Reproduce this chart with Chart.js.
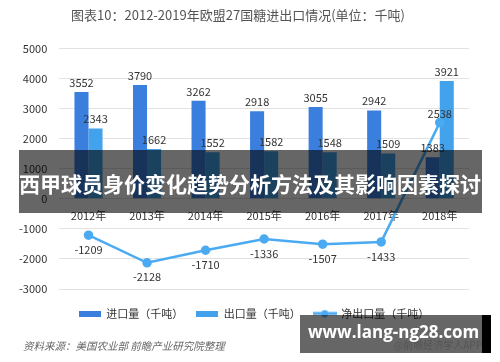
<!DOCTYPE html>
<html>
<head>
<meta charset="utf-8">
<script src="https://cdn.jsdelivr.net/npm/chart.js@4"></script>
<style>
  body { margin: 0; background: #fff; }
  #wrap { position: relative; width: 500px; height: 362px; overflow: hidden; font-family: "Noto Sans CJK SC", sans-serif; }
  #source { position: absolute; left: 23px; top: 338px; font-size: 10.5px; font-style: italic; color: #666; }
  #banner { position: absolute; left: 19px; top: 150px; width: 463px; height: 63px; background: rgba(0,0,0,0.6);
    color: #fff; font-family: "Noto Sans CJK SC", sans-serif; font-weight: bold; font-size: 21px; line-height: 63px;
    padding-top: 2px; box-sizing: border-box; white-space: nowrap; overflow: hidden; }
  #mark { position: absolute; left: 300px; top: 315px; width: 182px; height: 38px; background: rgba(0,0,0,0.6); overflow: hidden; }
  #mark .url { position: absolute; left: 8px; top: 5px; color: #fff; font-weight: bold; font-size: 17px; white-space: nowrap;
    font-family: "Open Sans", sans-serif; }
  #mark .app { position: absolute; right: 0; top: 22px; color: #555; font-size: 10px; white-space: nowrap; }
  #strip { position: absolute; left: 482px; top: 315px; width: 9px; height: 38px; background: #000; }
</style>
</head>
<body>
<div id="wrap">
  <canvas id="chart" width="500" height="362"></canvas>
  <div id="source">资料来源：美国农业部 前瞻产业研究院整理</div>
  <div id="banner">西甲球员身价变化趋势分析方法及其影响因素探讨</div>
  <div id="mark"><span class="app">@前瞻经济学人APP</span><span class="url">www.lang-ng28.com</span></div>
  <div id="strip"></div>
</div>
<script>
const years = ["2012年", "2013年", "2014年", "2015年", "2016年", "2017年", "2018年"];
const imports = [3552, 3790, 3262, 2918, 3055, 2942, 1383];
const exports = [2343, 1662, 1552, 1582, 1548, 1509, 3921];
const netExports = [-1209, -2128, -1710, -1336, -1507, -1433, 2538];
const yTicks = [5000, 4000, 3000, 2000, 1000, 0, -1000, -2000, -3000];

const importColor = "#3b7fde";
const exportColor = "#42a2ec";
const lineColor = "#4aaaf2";

function rectIcon(color) {
  const c = document.createElement("canvas");
  c.width = 22; c.height = 6;
  const g = c.getContext("2d");
  g.fillStyle = color;
  g.fillRect(0, 0, 22, 6);
  return c;
}

function lineIcon(color) {
  const c = document.createElement("canvas");
  c.width = 24; c.height = 8;
  const g = c.getContext("2d");
  g.strokeStyle = color;
  g.lineWidth = 3;
  g.beginPath(); g.moveTo(0, 4); g.lineTo(24, 4); g.stroke();
  g.fillStyle = color;
  g.beginPath(); g.arc(12, 4, 3.5, 0, Math.PI * 2); g.fill();
  return c;
}

// value labels drawn at the positions the library computed for each element
const valueLabels = {
  id: "valueLabels",
  afterDatasetsDraw(chart) {
    const ctx = chart.ctx;
    ctx.save();
    ctx.font = "11px 'Noto Sans CJK SC', sans-serif";
    ctx.fillStyle = "#333";
    ctx.textAlign = "center";
    chart.data.datasets.forEach((ds, i) => {
      const meta = chart.getDatasetMeta(i);
      meta.data.forEach((el, j) => {
        const v = ds.data[j];
        if (ds.type === "line") {
          if (v >= 0) {
            ctx.textBaseline = "bottom";
            ctx.fillText(v, el.x, el.y - 3);
          } else {
            ctx.textBaseline = "top";
            ctx.fillText(v, el.x, el.y + 9);
          }
        } else {
          ctx.textBaseline = "bottom";
          ctx.fillText(v, el.x, el.y - 4);
        }
      });
    });
    ctx.restore();
  }
};

// nudge the legend box a little after layout (the original legend sits off-centre)
const legendNudge = {
  id: "legendNudge",
  afterLayout(chart) {
    const lg = chart.legend;
    if (!lg) return;
    lg.left += 16; lg.right += 16;
    lg.top += 6; lg.bottom += 6;
  }
};

new Chart(document.getElementById("chart"), {
  data: {
    labels: years,
    datasets: [
      {
        type: "line",
        label: "净出口量（千吨）",
        data: netExports,
        borderColor: lineColor,
        backgroundColor: lineColor,
        borderWidth: 2.5,
        pointRadius: 3.5,
        pointStyle: "circle",
        tension: 0,
        order: 0
      },
      {
        type: "bar",
        label: "进口量（千吨）",
        data: imports,
        backgroundColor: importColor,
        barPercentage: 1,
        categoryPercentage: 0.48,
        order: 1
      },
      {
        type: "bar",
        label: "出口量（千吨）",
        data: exports,
        backgroundColor: exportColor,
        barPercentage: 1,
        categoryPercentage: 0.48,
        order: 1
      }
    ]
  },
  options: {
    responsive: false,
    animation: false,
    layout: { padding: { left: 7, right: 31, top: 0, bottom: 39 } },
    scales: {
      x: {
        position: { y: 0 },
        grid: { display: false },
        border: { display: false },
        ticks: { color: "#333", font: { size: 11, family: "'Noto Sans CJK SC', sans-serif" }, padding: 2, maxRotation: 0 }
      },
      y: {
        min: -3000,
        max: 5000,
        afterBuildTicks(axis) { axis.ticks = yTicks.map(v => ({ value: v })); },
        grid: { color: "#e2e2e2", drawTicks: false },
        border: { display: false },
        ticks: {
          color: "#333",
          font: { size: 11, family: "'Noto Sans CJK SC', sans-serif" },
          padding: 12,
          callback: (v) => String(v)
        }
      }
    },
    plugins: {
      title: {
        display: true,
        text: "图表10：2012-2019年欧盟27国糖进出口情况(单位：千吨)",
        color: "#555",
        font: { size: 13, weight: "normal", family: "'Noto Sans CJK SC', sans-serif" },
        padding: { top: 7, bottom: 26 }
      },
      legend: {
        position: "bottom",
        labels: {
          sort: (a, b) => a.datasetIndex === 0 ? 1 : (b.datasetIndex === 0 ? -1 : a.datasetIndex - b.datasetIndex),
          generateLabels(chart) {
            return chart.data.datasets.map((ds, i) => ({
              text: ds.label,
              datasetIndex: i,
              fontColor: "#333",
              pointStyle: ds.type === "line" ? lineIcon(lineColor) : rectIcon(ds.backgroundColor),
              lineWidth: 0,
              strokeStyle: "transparent",
              fillStyle: ds.backgroundColor
            }));
          },
          usePointStyle: true,
          pointStyleWidth: 22,
          boxHeight: 8,
          padding: 13,
          color: "#333",
          font: { size: 11, family: "'Noto Sans CJK SC', sans-serif" }
        }
      },
      tooltip: { enabled: false }
    }
  },
  plugins: [valueLabels, legendNudge]
});
</script>
</body>
</html>
